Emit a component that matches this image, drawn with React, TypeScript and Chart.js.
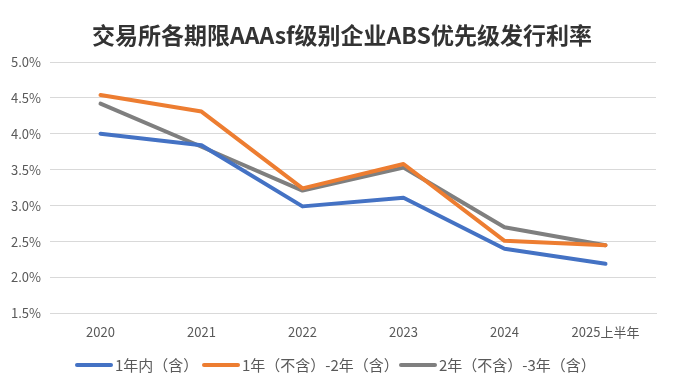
import React, { useEffect, useRef } from "react";
import { Chart, registerables } from "chart.js";

Chart.register(...registerables);

const categories = ["2020", "2021", "2022", "2023", "2024", "2025上半年"];
const seriesNames = ["1年内（含）", "1年（不含）-2年（含）", "2年（不含）-3年（含）"];
const within1Y = [4.0, 3.84, 2.99, 3.11, 2.4, 2.19];
const y1to2 = [4.54, 4.31, 3.24, 3.58, 2.51, 2.45];
const y2to3 = [4.42, 3.82, 3.21, 3.53, 2.7, 2.45];
const colors = ["#4472C4", "#ED7D31", "#7F7F7F"];
const titleText = "交易所各期限AAAsf级别企业ABS优先级发行利率";

const FONT = "'Noto Sans CJK SC', 'Open Sans', sans-serif";

const decorPlugin = {
  id: "decor",
  afterDraw(chart: any) {
    const ctx = chart.ctx as CanvasRenderingContext2D;
    ctx.save();
    // title
    ctx.fillStyle = "#333333";
    ctx.font = `bold 23px ${FONT}`;
    ctx.textAlign = "center";
    ctx.textBaseline = "middle";
    ctx.fillText(titleText, 342, 35);
    // legend
    const legendX = [75, 202, 399];
    const ly = 365;
    ctx.font = `15px ${FONT}`;
    ctx.textAlign = "left";
    chart.data.datasets.forEach((ds: any, i: number) => {
      const x = legendX[i];
      ctx.strokeStyle = ds.borderColor;
      ctx.lineWidth = 4;
      ctx.lineCap = "round";
      ctx.beginPath();
      ctx.moveTo(x + 2, ly);
      ctx.lineTo(x + 36, ly);
      ctx.stroke();
      ctx.fillStyle = "#595959";
      ctx.fillText(ds.label, x + 40, ly);
    });
    ctx.restore();
  },
};

export default function App() {
  const ref = useRef<HTMLCanvasElement | null>(null);
  useEffect(() => {
    if (!ref.current) return;
    const values = [within1Y, y1to2, y2to3];
    const chart = new Chart(ref.current, {
      type: "line",
      data: {
        labels: categories,
        datasets: values.map((v, i) => ({
          label: seriesNames[i],
          data: v,
          borderColor: colors[i],
          backgroundColor: colors[i],
          borderWidth: 4,
          pointRadius: 0,
          pointHoverRadius: 0,
          tension: 0,
          borderCapStyle: "round" as const,
          borderJoinStyle: "round" as const,
        })),
      },
      plugins: [decorPlugin],
      options: {
        animation: false,
        responsive: true,
        maintainAspectRatio: false,
        layout: { padding: { left: 0, right: 17, top: 62, bottom: 36 } },
        plugins: {
          title: { display: false },
          legend: { display: false },
          tooltip: { enabled: false },
        },
        scales: {
          x: {
            offset: true,
            grid: { display: false, drawTicks: false },
            border: { display: true, color: "#d9d9d9", width: 1 },
            ticks: { color: "#595959", font: { family: FONT, size: 13 }, padding: 11, maxRotation: 0 },
          },
          y: {
            min: 1.5,
            max: 5.0,
            afterFit: (s: any) => {
              s.width = 50;
            },
            grid: { color: "#d9d9d9", drawTicks: false },
            border: { display: false },
            ticks: {
              stepSize: 0.5,
              color: "#595959",
              font: { family: FONT, size: 13 },
              padding: 9,
              callback: (v: any) => Number(v).toFixed(1) + "%",
            },
          },
        },
      },
    });
    return () => chart.destroy();
  }, []);
  return (
    <div style={{ position: "absolute", left: 0, top: 0, width: 673, height: 387, background: "#fff" }}>
      <canvas ref={ref} />
    </div>
  );
}
